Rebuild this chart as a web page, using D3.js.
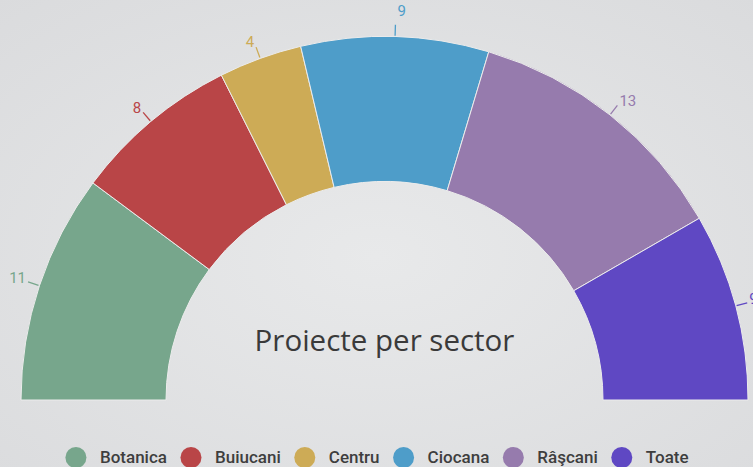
<!DOCTYPE html>
<html>
<head>
<meta charset="utf-8">
<script src="https://cdn.jsdelivr.net/npm/d3@7"></script>
<style>
  body { margin: 0; overflow: hidden; }
  text { font-family: Roboto, "Open Sans", sans-serif; }
</style>
</head>
<body>
<div id="chart"></div>
<script>
var sectors = ["Botanica", "Buiucani", "Centru", "Ciocana", "Râşcani", "Toate"];
var counts = [11, 8, 4, 9, 13, 9];
var colors = ["#77a68c", "#b94547", "#cdab56", "#4e9dc9", "#967bad", "#5f48c3"];
var title = "Proiecte per sector";

var width = 753, height = 467,
    cx = 384.5, cy = 400,
    rOut = 363.5, rIn = 218.5;

var svg = d3.select("#chart").append("svg")
    .attr("width", width)
    .attr("height", height);

// light grey backdrop, a bit brighter in the middle
var grad = svg.append("defs").append("radialGradient")
    .attr("id", "bg")
    .attr("cx", "50%").attr("cy", "55%").attr("r", "75%");
grad.append("stop").attr("offset", "0%").attr("stop-color", "#e8e9ea");
grad.append("stop").attr("offset", "100%").attr("stop-color", "#dadbdd");
svg.append("rect")
    .attr("width", width).attr("height", height)
    .attr("fill", "url(#bg)");

var color = d3.scaleOrdinal().domain(sectors).range(colors);

var data = sectors.map(function(s, i) { return { name: s, value: counts[i] }; });

var pie = d3.pie()
    .sort(null)
    .value(function(d) { return d.value; })
    .startAngle(-Math.PI / 2)
    .endAngle(Math.PI / 2);

var arc = d3.arc().innerRadius(rIn).outerRadius(rOut);

var g = svg.append("g").attr("transform", "translate(" + cx + "," + cy + ")");
var arcs = pie(data);

g.selectAll("path.slice")
    .data(arcs)
    .enter().append("path")
      .attr("class", "slice")
      .attr("d", arc)
      .attr("fill", function(d) { return color(d.data.name); })
      .attr("stroke", "#ececec")
      .attr("stroke-width", 1);

function pt(a, r) { return [r * Math.sin(a), -r * Math.cos(a)]; }

// leader lines + value labels
g.selectAll("line.leader")
    .data(arcs)
    .enter().append("line")
      .attr("class", "leader")
      .attr("x1", function(d) { return pt((d.startAngle + d.endAngle) / 2, rOut + 1)[0]; })
      .attr("y1", function(d) { return pt((d.startAngle + d.endAngle) / 2, rOut + 1)[1]; })
      .attr("x2", function(d) { return pt((d.startAngle + d.endAngle) / 2, rOut + 12)[0]; })
      .attr("y2", function(d) { return pt((d.startAngle + d.endAngle) / 2, rOut + 12)[1]; })
      .attr("stroke", function(d) { return color(d.data.name); })
      .attr("stroke-width", 1.3);

g.selectAll("text.val")
    .data(arcs)
    .enter().append("text")
      .attr("class", "val")
      .each(function(d) {
        var a = (d.startAngle + d.endAngle) / 2;
        var p = pt(a, rOut + 12);
        var right = a >= 0;
        var lift = 10 * Math.pow(Math.abs(Math.cos(a)), 40);
        d3.select(this)
          .attr("x", p[0] + (right ? 2 : -2))
          .attr("y", p[1] + 1 - lift)
          .attr("text-anchor", right ? "start" : "end");
      })
      .attr("fill", function(d) { return color(d.data.name); })
      .attr("font-size", 15)
      .text(function(d) { return d.data.value; });

// centre title
svg.append("text")
    .attr("x", cx)
    .attr("y", 351)
    .attr("text-anchor", "middle")
    .attr("fill", "#3a3a3a")
    .style("font-family", "'Open Sans', sans-serif")
    .attr("font-size", 29.5)
    .text(title);

// legend
var legend = svg.append("g").attr("class", "legend");
var item = legend.selectAll("g")
    .data(sectors)
    .enter().append("g");
item.append("circle")
    .attr("r", 10.5)
    .attr("cy", 457.5)
    .attr("fill", function(d) { return color(d); });
item.append("text")
    .attr("y", 463)
    .attr("font-size", 17)
    .attr("font-weight", 500)
    .attr("fill", "#3e3e3e")
    .text(function(d) { return d; });

// circle centre -> text 24px, text end -> next circle centre 24px
var xpos = 0, lastEnd = 0;
item.each(function(d, i) {
  var w = d3.select(this).select("text").node().getComputedTextLength();
  d3.select(this).select("circle").attr("cx", xpos);
  d3.select(this).select("text").attr("x", xpos + 24);
  lastEnd = xpos + 24 + w;
  xpos = lastEnd + 24;
});
var left = -10.5;
legend.attr("transform", "translate(" + (377 - (left + lastEnd) / 2) + ",0)");
</script>
</body>
</html>
